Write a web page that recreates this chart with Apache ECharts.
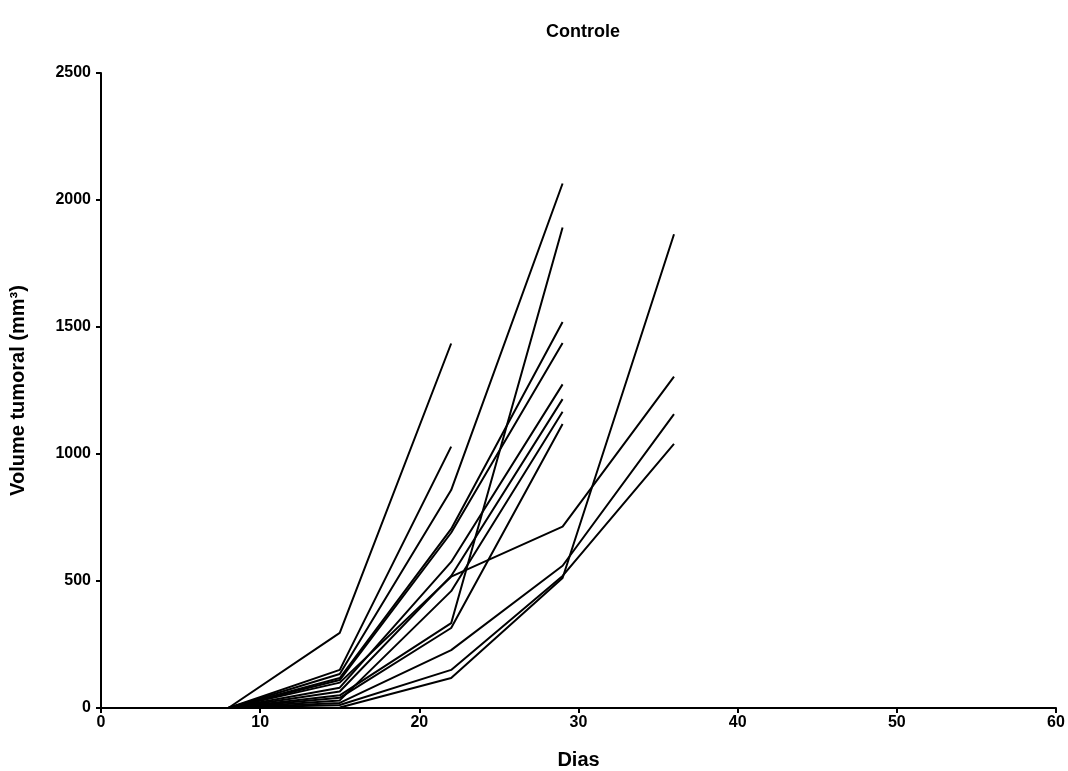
<!DOCTYPE html>
<html lang="pt">
<head>
    <meta charset="UTF-8">
    <script src="https://cdn.jsdelivr.net/npm/echarts@6/dist/echarts.min.js"></script>
    <title>Controle</title>
    <style>
        html, body { margin: 0; padding: 0; background: #fff; }
        #main { width: 1068px; height: 771px; }
    </style>
</head>
<body>
<div id="main"></div>
<script type="text/javascript">
    // dias de medida
    var dias = [0, 8, 15, 22, 29, 36];

    // volume tumoral (mm3) de cada animal
    var animal1 = [0, 0, 296, 1435];
    var animal2 = [0, 0, 150, 1029];
    var animal3 = [0, 0, 134, 858, 2065];
    var animal4 = [0, 0, 118, 705, 1520];
    var animal5 = [0, 0, 110, 690, 1437];
    var animal6 = [0, 0, 50, 334, 1892];
    var animal7 = [0, 0, 40, 315, 1118];
    var animal8 = [0, 0, 80, 575, 1274];
    var animal9 = [0, 0, 65, 520, 1216];
    var animal10 = [0, 0, 30, 460, 1166];
    var animal11 = [0, 0, 100, 517, 714, 1305];
    var animal12 = [0, 0, 20, 228, 560, 1157];
    var animal13 = [0, 0, 12, 150, 520, 1040];
    var animal14 = [0, 0, 2, 118, 512, 1865];

    var animais = [animal1, animal2, animal3, animal4, animal5, animal6, animal7,
        animal8, animal9, animal10, animal11, animal12, animal13, animal14];

    var fonte = 'Liberation Sans, Arial, sans-serif';

    var series = animais.map(function (vals, i) {
        return {
            name: 'Animal ' + (i + 1),
            type: 'line',
            symbol: 'none',
            lineStyle: { color: '#000', width: 2 },
            animation: false,
            data: vals.map(function (v, j) { return [dias[j], v]; })
        };
    });

    // rótulos sem separador de milhar
    function semSeparador(v) { return String(v); }

    var myChart = echarts.init(document.getElementById('main'));
    myChart.setOption({
        backgroundColor: '#fff',
        title: {
            text: 'Controle',
            left: 578,
            top: 18,
            textAlign: 'center',
            textStyle: { fontFamily: fonte, fontWeight: 'bold', fontSize: 18, color: '#000' }
        },
        grid: { left: 101, right: 12, top: 73, bottom: 63, containLabel: false, outerBoundsMode: 'none' },
        xAxis: {
            type: 'value',
            min: 0,
            max: 60,
            interval: 10,
            name: 'Dias',
            nameLocation: 'middle',
            nameGap: 42,
            nameTextStyle: { fontFamily: fonte, fontWeight: 'bold', fontSize: 20, color: '#000' },
            axisLine: { show: true, onZero: false, lineStyle: { color: '#000', width: 2 } },
            axisTick: { show: true, inside: false, length: 5, lineStyle: { color: '#000', width: 2 } },
            axisLabel: { fontFamily: fonte, fontWeight: 'bold', fontSize: 16, color: '#000', margin: 7, formatter: semSeparador },
            splitLine: { show: false }
        },
        yAxis: {
            type: 'value',
            min: 0,
            max: 2500,
            interval: 500,
            name: 'Volume tumoral (mm³)',
            nameLocation: 'middle',
            nameGap: 73,
            nameTextStyle: { fontFamily: fonte, fontWeight: 'bold', fontSize: 20, color: '#000' },
            axisLine: { show: true, lineStyle: { color: '#000', width: 2 } },
            axisTick: { show: true, inside: false, length: 5, lineStyle: { color: '#000', width: 2 } },
            axisLabel: { fontFamily: fonte, fontWeight: 'bold', fontSize: 16, color: '#000', margin: 10, formatter: semSeparador },
            splitLine: { show: false }
        },
        series: series
    });
</script>
</body>
</html>
